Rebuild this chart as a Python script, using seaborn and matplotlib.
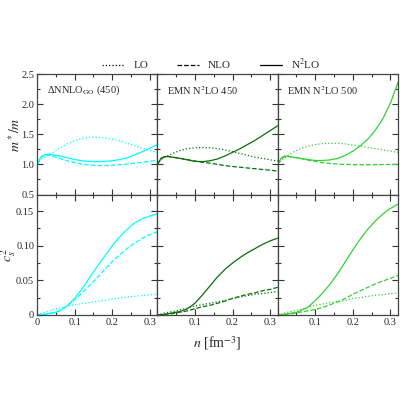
import numpy as np
import pandas as pd
import seaborn as sns
import matplotlib.pyplot as plt
from matplotlib.lines import Line2D
from matplotlib.ticker import MultipleLocator, FuncFormatter

# density grid [fm^-3]
n = [0, .01, .02, .03, .04, .05, .06, .08, .10, .12, .14, .16, .18, .20,
     .22, .24, .26, .28, .30, .32]

titles = ['ΔNNLO$_{\\rm GO}$ (450)', 'EMN N$^2$LO 450', 'EMN N$^2$LO 500']
colors = ['#00ffff', '#0a6e0a', '#35d035']
orders = ['LO', 'NLO', 'N$^2$LO']

# effective mass m*/m
mstar_go = {
    'LO': [1.0, 1.08, 1.12, 1.16, 1.19, 1.23, 1.27, 1.34, 1.39, 1.43, 1.45, 1.45, 1.44, 1.42, 1.39, 1.35, 1.31, 1.27, 1.23, 1.20],
    'NLO': [1.0, 1.11, 1.15, 1.15, 1.14, 1.12, 1.10, 1.06, 1.03, 1.005, 0.99, 0.98, 0.98, 0.985, 0.995, 1.005, 1.02, 1.035, 1.05, 1.07],
    'N$^2$LO': [1.0, 1.12, 1.16, 1.17, 1.16, 1.15, 1.14, 1.11, 1.08, 1.06, 1.05, 1.045, 1.05, 1.06, 1.08, 1.11, 1.16, 1.21, 1.27, 1.33],
}
mstar_450 = {
    'LO': [1.0, 1.08, 1.12, 1.15, 1.18, 1.205, 1.23, 1.26, 1.275, 1.28, 1.275, 1.26, 1.24, 1.21, 1.18, 1.15, 1.12, 1.10, 1.075, 1.055],
    'NLO': [1.0, 1.10, 1.13, 1.13, 1.12, 1.11, 1.10, 1.08, 1.055, 1.035, 1.02, 1.00, 0.98, 0.965, 0.953, 0.94, 0.928, 0.915, 0.903, 0.89],
    'N$^2$LO': [1.0, 1.10, 1.13, 1.13, 1.12, 1.11, 1.10, 1.075, 1.05, 1.045, 1.06, 1.09, 1.14, 1.20, 1.26, 1.33, 1.40, 1.48, 1.56, 1.64],
}
mstar_500 = {
    'LO': [1.0, 1.07, 1.11, 1.155, 1.20, 1.23, 1.26, 1.30, 1.33, 1.345, 1.35, 1.35, 1.34, 1.32, 1.30, 1.28, 1.26, 1.24, 1.22, 1.20],
    'NLO': [1.0, 1.10, 1.13, 1.13, 1.12, 1.11, 1.10, 1.07, 1.05, 1.03, 1.015, 1.005, 1.0, 0.997, 0.995, 0.995, 0.995, 0.997, 0.998, 1.0],
    'N$^2$LO': [1.0, 1.11, 1.14, 1.13, 1.12, 1.11, 1.10, 1.08, 1.065, 1.065, 1.075, 1.10, 1.15, 1.22, 1.31, 1.42, 1.57, 1.76, 2.02, 2.36],
}

# speed of sound squared c_s^2
cs2_go = {
    'LO': [0, 0.002, 0.004, 0.0055, 0.007, 0.009, 0.010, 0.0125, 0.015, 0.0165, 0.018, 0.0195, 0.021, 0.023, 0.0245, 0.026, 0.027, 0.0283, 0.029, 0.030],
    'NLO': [0, 0.0005, 0.001, 0.002, 0.003, 0.004, 0.006, 0.013, 0.022, 0.032, 0.043, 0.054, 0.066, 0.077, 0.087, 0.096, 0.104, 0.111, 0.116, 0.120],
    'N$^2$LO': [0, 0.0005, 0.001, 0.002, 0.003, 0.004, 0.006, 0.013, 0.024, 0.038, 0.054, 0.070, 0.085, 0.100, 0.113, 0.124, 0.133, 0.139, 0.143, 0.146],
}
cs2_450 = {
    'LO': [0, 0.0015, 0.003, 0.004, 0.005, 0.006, 0.0075, 0.010, 0.013, 0.015, 0.017, 0.019, 0.021, 0.024, 0.026, 0.028, 0.030, 0.031, 0.0325, 0.034],
    'NLO': [0, 0.0005, 0.001, 0.0015, 0.002, 0.003, 0.004, 0.006, 0.009, 0.012, 0.014, 0.017, 0.020, 0.024, 0.027, 0.030, 0.032, 0.035, 0.037, 0.040],
    'N$^2$LO': [0, 0.0005, 0.001, 0.002, 0.003, 0.004, 0.005, 0.009, 0.017, 0.029, 0.042, 0.055, 0.066, 0.075, 0.083, 0.090, 0.096, 0.102, 0.107, 0.111],
}
cs2_500 = {
    'LO': [0, 0.0015, 0.003, 0.0045, 0.0055, 0.007, 0.008, 0.011, 0.014, 0.016, 0.018, 0.0195, 0.021, 0.024, 0.025, 0.027, 0.0285, 0.0295, 0.031, 0.032],
    'NLO': [0, 0.0005, 0.001, 0.0015, 0.002, 0.003, 0.004, 0.006, 0.008, 0.011, 0.015, 0.019, 0.024, 0.030, 0.035, 0.040, 0.045, 0.049, 0.053, 0.057],
    'N$^2$LO': [0, 0.0005, 0.001, 0.002, 0.003, 0.004, 0.006, 0.011, 0.021, 0.032, 0.045, 0.060, 0.077, 0.094, 0.110, 0.124, 0.136, 0.146, 0.154, 0.160],
}

mstar = [mstar_go, mstar_450, mstar_500]
cs2 = [cs2_go, cs2_450, cs2_500]
styles = {'LO': ':', 'NLO': '--', 'N$^2$LO': '-'}

sns.set_style('ticks')
plt.rcParams['font.family'] = ['Liberation Serif', 'DejaVu Serif']
plt.rcParams['mathtext.fontset'] = 'stix'

fig, axes = plt.subplots(2, 3, figsize=(4, 4), dpi=100)
fig.subplots_adjust(left=0.0925, right=0.995, top=0.815, bottom=0.2125, wspace=0, hspace=0)

for j in range(3):
    for i, data in enumerate([mstar[j], cs2[j]]):
        ax = axes[i, j]
        for o in orders:
            sns.lineplot(x=n, y=data[o], ax=ax, color=colors[j], linestyle=styles[o],
                         linewidth=0.9, legend=False)
        ax.set_xlim(0, 0.32)
        ax.xaxis.set_major_locator(MultipleLocator(0.1))
        ax.xaxis.set_minor_locator(MultipleLocator(0.05))
        ax.xaxis.set_major_formatter(FuncFormatter(lambda v, p: '0' if abs(v) < 1e-9 else f'{v:.1f}'))
        if i == 0:
            ax.set_ylim(0.5, 2.5)
            ax.yaxis.set_major_locator(MultipleLocator(0.5))
            ax.yaxis.set_minor_locator(MultipleLocator(0.25))
            ax.yaxis.set_major_formatter(FuncFormatter(lambda v, p: f'{v:.1f}'))
            ax.tick_params(labelbottom=False)
            ax.text(0.08, 0.92, titles[j], transform=ax.transAxes, fontsize=7.5, va='top')
        else:
            ax.set_ylim(0, 0.174)
            ax.yaxis.set_major_locator(MultipleLocator(0.05))
            ax.yaxis.set_minor_locator(MultipleLocator(0.025))
            ax.yaxis.set_major_formatter(FuncFormatter(lambda v, p: '0' if abs(v) < 1e-9 else f'{v:.2f}'))
            if j > 0:
                ax.xaxis.set_major_formatter(FuncFormatter(lambda v, p: '' if abs(v) < 1e-9 else f'{v:.1f}'))
        if j > 0:
            ax.tick_params(labelleft=False)
        ax.tick_params(which='both', direction='in', top=True, right=True, labelsize=7.5,
                       color='#333333', width=0.8, pad=2)
        ax.tick_params(which='major', length=4)
        ax.tick_params(which='minor', length=2)
        for s in ax.spines.values():
            s.set_color('#444444')
            s.set_linewidth(0.9)
        ax.set_xlabel('')
        ax.set_ylabel('')

axes[0, 0].set_ylabel('$m^*/m$', fontsize=10)
axes[0, 0].yaxis.set_label_coords(-0.12, 0.5)
axes[1, 0].set_ylabel('$c_s^2$', fontsize=10)
axes[1, 0].yaxis.set_label_coords(-0.155, 0.5)
axes[1, 1].set_xlabel('$n$ [fm$^{-3}$]', fontsize=10, labelpad=5)

handles = [Line2D([], [], color='k', linestyle=styles[o], linewidth=0.9) for o in orders]
fig.legend(handles, orders, loc='center', bbox_to_anchor=(0.528, 0.84), ncol=3,
           frameon=False, fontsize=8, handlelength=2.0, columnspacing=2.6, handletextpad=0.8)

fig.savefig('out.png', dpi=100)
